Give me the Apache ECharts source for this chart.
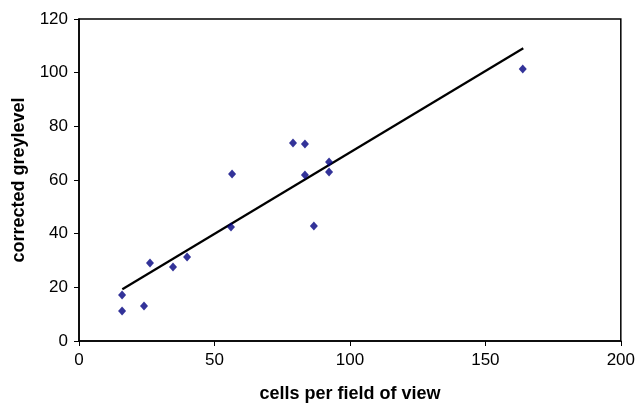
<!DOCTYPE html>
<html><head><meta charset="utf-8">
<script src="https://cdn.jsdelivr.net/npm/echarts@6/dist/echarts.min.js"></script>
<style>html,body{margin:0;padding:0;background:#fff}#c{width:638px;height:408px}</style>
</head><body><div id="c"></div>
<script>
const cellsX = [15.9, 15.9, 24.0, 26.2, 34.7, 39.9, 56.1, 56.5, 79.0, 83.4, 83.4, 86.7, 92.3, 92.3, 163.8];
const greyY  = [11.2, 17.1, 13.0, 29.1, 27.6, 31.3, 42.5, 62.2, 73.8, 73.4, 61.9, 42.9, 66.7, 63.0, 101.4];
const trendX = [16, 164];
const trendY = [19.3, 109.1];
const xTicks = [0, 50, 100, 150, 200];
const yTicks = [0, 20, 40, 60, 80, 100, 120];

const chart = echarts.init(document.getElementById('c'));
const font = 'Liberation Sans, Arial, sans-serif';
chart.setOption({
  animation: false,
  grid: {left: 79, right: 17, top: 19, bottom: 67, show: true, borderColor: '#000', borderWidth: 1.5, backgroundColor: '#fff'},
  xAxis: {
    type: 'value', min: xTicks[0], max: xTicks[xTicks.length-1], interval: 50,
    name: 'cells per field of view', nameLocation: 'middle', nameGap: 44,
    nameTextStyle: {fontFamily: font, fontWeight: 'bold', fontSize: 18, color: '#000'},
    axisLine: {lineStyle: {color: '#000', width: 1.5}},
    axisTick: {show: true, length: 5, lineStyle: {color: '#000'}},
    axisLabel: {fontFamily: font, fontSize: 17, color: '#000', margin: 11},
    splitLine: {show: false}
  },
  yAxis: {
    type: 'value', min: yTicks[0], max: yTicks[yTicks.length-1], interval: 20,
    name: 'corrected greylevel', nameLocation: 'middle', nameGap: 51, nameRotate: 90,
    nameTextStyle: {fontFamily: font, fontWeight: 'bold', fontSize: 18, color: '#000'},
    axisLine: {show: true, lineStyle: {color: '#000', width: 1.5}},
    axisTick: {show: true, length: 5, lineStyle: {color: '#000'}},
    axisLabel: {fontFamily: font, fontSize: 17, color: '#000', margin: 11},
    splitLine: {show: false}
  },
  series: [
    {type: 'line', data: trendX.map((x, i) => [x, trendY[i]]), symbol: 'none',
     lineStyle: {color: '#000', width: 2.2}, z: 2},
    {type: 'scatter', data: cellsX.map((x, i) => [x, greyY[i]]), symbol: 'diamond',
     symbolSize: [8, 9], itemStyle: {color: '#000080'}, z: 3}
  ]
});
</script></body></html>
